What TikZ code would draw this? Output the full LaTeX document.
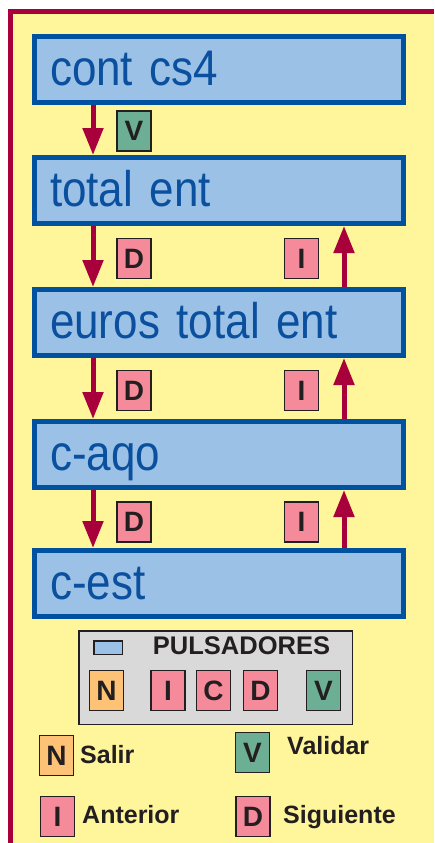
\documentclass[tikz,border=0pt]{standalone}
\usepackage{fontspec}
\setmainfont{Liberation Sans}
\newfontfamily\boxfont[FakeStretch=0.88]{Liberation Sans}
\usepackage{xcolor}
\usetikzlibrary{arrows.meta, positioning, calc}

\definecolor{panel}{HTML}{FFF59A}
\definecolor{flowred}{HTML}{A8003A}
\definecolor{fieldfill}{HTML}{9BC1E6}
\definecolor{fieldline}{HTML}{0052A0}
\definecolor{fieldtext}{HTML}{0A509E}
\definecolor{keyline}{HTML}{231F20}
\definecolor{keypink}{HTML}{F48A9A}
\definecolor{keyorange}{HTML}{FDC275}
\definecolor{keygreen}{HTML}{6DAF94}
\definecolor{legendgray}{HTML}{D9D9DA}

\begin{document}
\begin{tikzpicture}[
  x=1pt, y=-1pt,
  node distance=61pt,
  field/.style={draw=fieldline, fill=fieldfill, line width=5pt, text width=338pt, inner xsep=15.5pt, inner ysep=0pt, minimum height=66pt, align=left, text height=38pt, text depth=7pt, text=fieldtext, font=\boxfont\fontsize{50}{50}\selectfont},
  key/.style={draw=keyline, line width=1.5pt, minimum width=34pt, minimum height=40pt, inner sep=0pt, text=keyline, font=\bfseries\fontsize{28}{28}\selectfont},
  flow/.style={draw=flowred, line width=5pt, -{Triangle[width=20pt, length=27pt]}},
  lbl/.style={anchor=base west, inner sep=0pt, text=keyline, font=\bfseries\fontsize{25}{25}\selectfont}
]
  \useasboundingbox (0,0) rectangle (434,843);

  % panel
  \fill[panel] (10.5,12) rectangle (434,843);
  \draw[flowred, line width=5pt] (10.5,843) -- (10.5,12) -- (434,12);

  % fields
  \node[field] (cont) at (219,69.5) {cont cs4};
  \node[field, below=50pt of cont] (total) {total ent};
  \node[field, below=of total] (euros) {euros total ent};
  \node[field, below=of euros] (caqo) {c-aqo};
  \node[field, below=58pt of caqo] (cest) {c-est};

  % moves between fields
  \draw[flow] ([xshift=-126pt]cont.south) -- ([xshift=-126pt]total.north);
  \node[key, fill=keygreen] (v1) at ($(cont.south)!.5!(total.north)+(-85,1)$) {V};

  \draw[flow] ([xshift=-126pt]total.south) -- ([xshift=-126pt]euros.north);
  \draw[flow] ([xshift=125pt]euros.north) -- ([xshift=125pt]total.south);
  \node[key, fill=keypink] (d2) at ($(total.south)!.5!(euros.north)+(-85,2)$) {D};
  \node[key, fill=keypink] (i2) at ($(total.south)!.5!(euros.north)+(82.5,2)$) {I};

  \draw[flow] ([xshift=-126pt]euros.south) -- ([xshift=-126pt]caqo.north);
  \draw[flow] ([xshift=125pt]caqo.north) -- ([xshift=125pt]euros.south);
  \node[key, fill=keypink] (d3) at ($(euros.south)!.5!(caqo.north)+(-85,2)$) {D};
  \node[key, fill=keypink] (i3) at ($(euros.south)!.5!(caqo.north)+(82.5,2)$) {I};

  \draw[flow] ([xshift=-126pt]caqo.south) -- ([xshift=-126pt]cest.north);
  \draw[flow] ([xshift=125pt]cest.north) -- ([xshift=125pt]caqo.south);
  \node[key, fill=keypink] (d4) at ($(caqo.south)!.5!(cest.north)+(-85,3)$) {D};
  \node[key, fill=keypink] (i4) at ($(caqo.south)!.5!(cest.north)+(82.5,3)$) {I};

  % pulsadores
  \node[draw=keyline, fill=legendgray, line width=1.5pt, minimum width=273.5pt, minimum height=93.5pt, below=11pt of cest, xshift=-3.5pt] (panelkeys) {};
  \node[draw=keyline, fill=fieldfill, line width=1.5pt, minimum width=28.5pt, minimum height=13.5pt, inner sep=0pt] (swatch) at (108,647.5) {};
  \node[anchor=base, inner sep=0pt, text=keyline, font=\bfseries\fontsize{25.5}{25.5}\selectfont] (title) at (241.5,654) {PULSADORES};
  \node[key, fill=keyorange] (kn) at (106.5,690.5) {N};
  \node[key, fill=keypink] (ki) at (168,690.5) {I};
  \node[key, fill=keypink] (kc) at (213.5,690.5) {C};
  \node[key, fill=keypink] (kd) at (260.5,690.5) {D};
  \node[key, fill=keygreen] (kv) at (323.5,690.5) {V};

  % legend
  \node[key, fill=keyorange] (ln) at (56.5,755.5) {N};
  \node[lbl] (salir) at (80,763) {Salir};
  \node[key, fill=keygreen] (lv) at (252.5,752.5) {V};
  \node[lbl] (validar) at (287,754) {Validar};
  \node[key, fill=keypink] (li) at (57.5,816.5) {I};
  \node[lbl] (anterior) at (82,823) {Anterior};
  \node[key, fill=keypink] (ld) at (253,816.5) {D};
  \node[lbl] (siguiente) at (283,823) {Siguiente};
\end{tikzpicture}
\end{document}
